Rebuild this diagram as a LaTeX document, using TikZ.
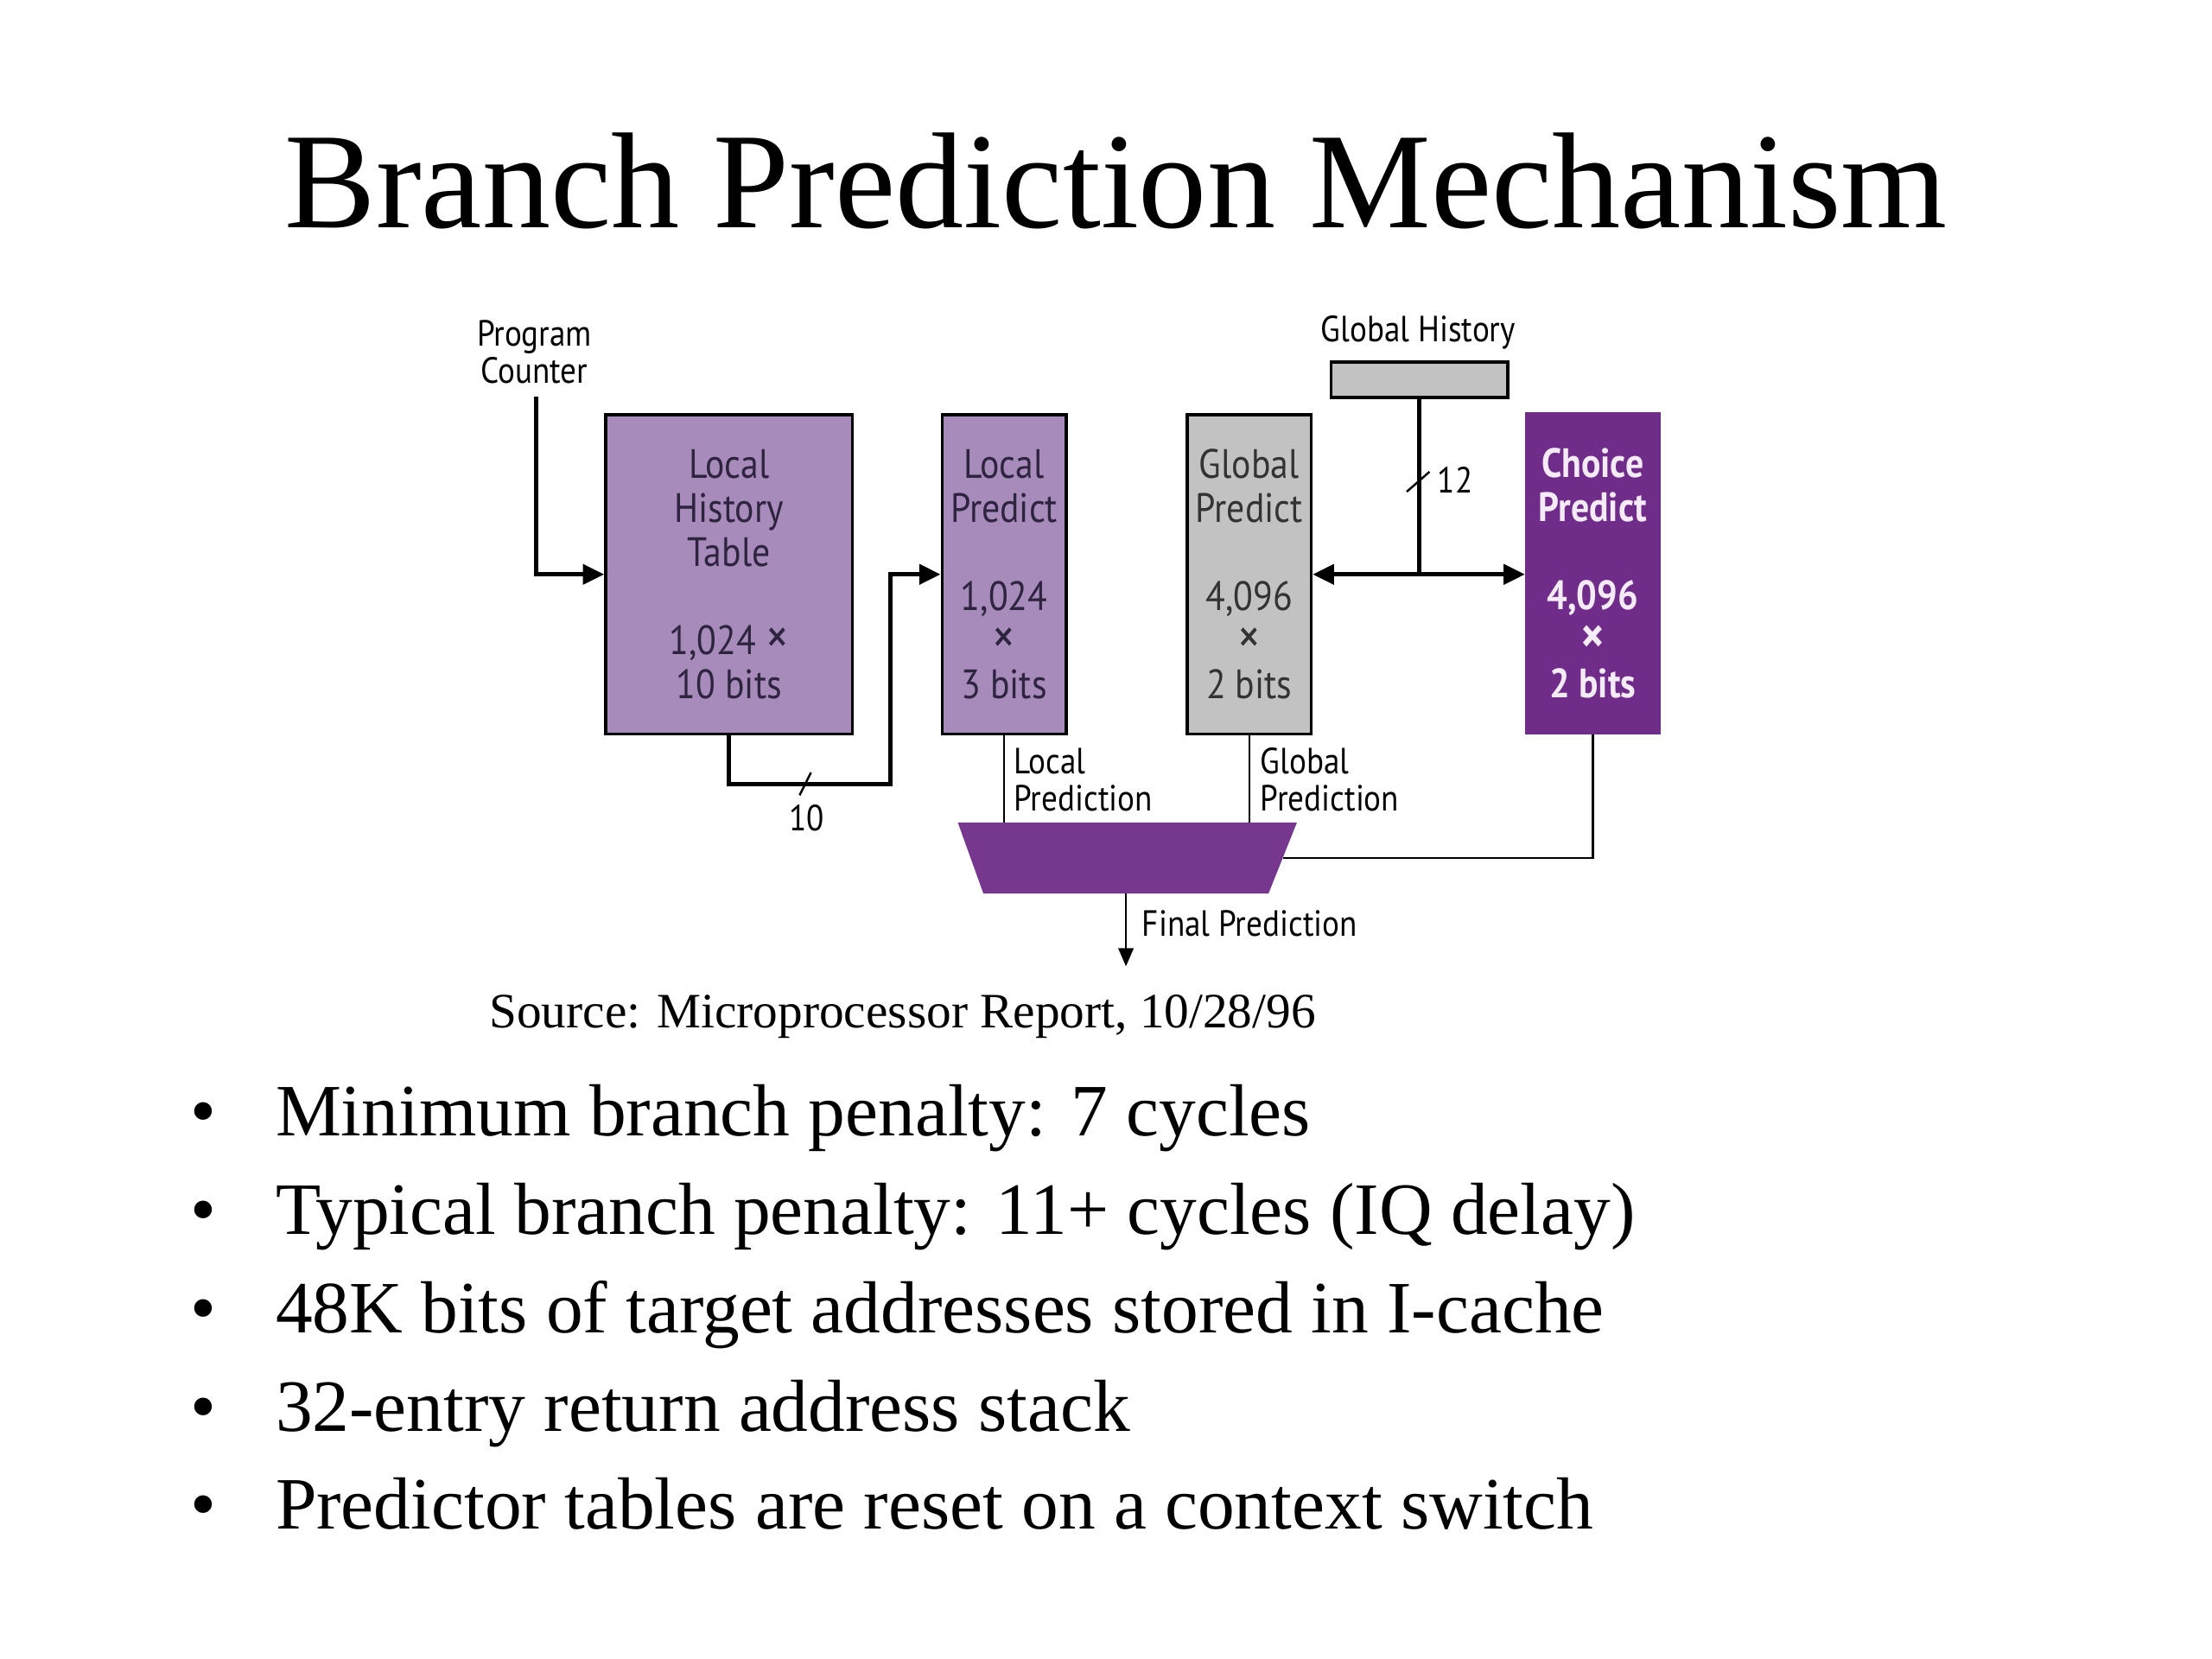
\documentclass[tikz,border=0pt]{standalone}
\usepackage{fontspec}
\setmainfont{Liberation Serif}
\newfontfamily\diagfont[FakeStretch=0.88]{PT Sans}
\usepackage{tikz}
\usetikzlibrary{arrows.meta}
\definecolor{lilac}{HTML}{A78BBB}
\definecolor{plum}{HTML}{6F2C89}
\definecolor{gray300}{HTML}{C2C2C2}
\definecolor{ink}{HTML}{2F2440}
\definecolor{pale}{HTML}{F5EAF8}
\def\px{0.016495cm}
\newcommand{\bytimes}{{\fontsize{17}{14.5}\selectfont ×}}
\tikzstyle{tablebox}=[rectangle, draw=black, line width=1pt, inner sep=0pt, minimum height=224*\px, align=center, text=ink, font=\diagfont\fontsize{13.5}{14.5}\selectfont]
\tikzstyle{tag}=[inner sep=0pt, align=left, font=\diagfont\fontsize{12}{12.2}\selectfont]
\tikzstyle{bus}=[line width=1.4pt, >={Triangle[length=7pt,width=6.5pt]}]
\tikzstyle{wire}=[line width=0.7pt, >={Triangle[length=6pt,width=5pt]}]
\tikzstyle{bullet}=[inner sep=0pt, anchor=base west, font=\fontsize{24.3}{29}\selectfont]

\begin{document}
\begin{tikzpicture}[x=0.016495cm, y=-0.016495cm]
			\useasboundingbox (0,0) rectangle (1552,1164);
			\node[font=\fontsize{45}{54}\selectfont, anchor=base] (title) at (783,160) {Branch Prediction Mechanism};
			% tables
			\node[tablebox, fill=lilac, minimum width=173*\px] (lht) at (511.5,403) {Local\\History\\Table\\[14.5pt]1,024 \bytimes\\10 bits};
			\node[tablebox, fill=lilac, minimum width=87*\px] (lp) at (704.5,403) {Local\\Predict\\[14.5pt]1,024\\\bytimes\\3 bits};
			\node[tablebox, fill=gray300, text=black!80, minimum width=87*\px] (gp) at (876.5,403) {Global\\Predict\\[14.5pt]4,096\\\bytimes\\2 bits};
			\node[tablebox, fill=plum, draw=plum, text=pale, minimum width=93*\px, font=\diagfont\bfseries\fontsize{13.5}{14.5}\selectfont] (cp) at (1117.5,402) {Choice\\Predict\\[14.5pt]4,096\\\bytimes\\2 bits};
			\node[rectangle, draw=black, line width=1pt, fill=gray300, minimum width=124*\px, minimum height=25*\px, inner sep=0pt] (gh) at (996,266.5) {};
			% selector
			\coordinate (muxnw) at (672,577);
			\coordinate (muxne) at (910,577);
			\coordinate (muxse) at (890,627);
			\coordinate (muxsw) at (690,627);
			\coordinate (muxe) at (900,602);
			\coordinate (muxs) at (790,627);
			\fill[plum!95!white] (muxnw) -- (muxne) -- (muxse) -- (muxsw) -- cycle;
			% labels
			\node[tag, align=center] (pc) at (375,247) {Program\\Counter};
			\node[tag] (ghl) at (995,233) {Global History};
			\node[tag, anchor=west] (lpl) at (711,547) {Local\\Prediction};
			\node[tag, anchor=west] (gpl) at (884,547) {Global\\Prediction};
			\node[tag, anchor=west] (fpl) at (801,648) {Final Prediction};
			\node[tag] (w10) at (566,574) {10};
			\node[tag] (w12) at (1021,337) {12};
			% wires
			\coordinate (bend) at (625,550);
			\coordinate (pcbase) at (376,278);
			\coordinate (out) at (790,678);
			\draw[bus, ->] (pcbase) |- (lht.west);
			\draw[bus, ->] (lht.south) |- (bend) |- (lp.west);
			\draw[bus] (gh.south) -- (gh.south |- gp.east);
			\draw[bus, <->] (gp.east) -- (cp.west |- gp.east);
			\draw[wire] (561,558) -- (569,542);
			\draw[wire] (987,345) -- (1003,331);
			\draw[wire] (lp.south) -- (lp.south |- muxnw);
			\draw[wire] (gp.south) -- (gp.south |- muxnw);
			\draw[wire] (cp.south) |- (muxe);
			\draw[wire, ->] (muxs) -- (out);
			% text
			\node[inner sep=0pt, anchor=base west, font=\fontsize{16.3}{19}\selectfont] (src) at (343,721) {Source: Microprocessor Report, 10/28/96};
			\node[bullet] (b1) at (193,797) {Minimum branch penalty: 7 cycles};
			\node[bullet] (b2) at (193,866) {Typical branch penalty: 11+ cycles (IQ delay)};
			\node[bullet] (b3) at (193,935) {48K bits of target addresses stored in I-cache};
			\node[bullet] (b4) at (193,1004) {32-entry return address stack};
			\node[bullet] (b5) at (193,1073) {Predictor tables are reset on a context switch};
			\node[bullet, anchor=base] (d1) at (143,797) {•};
			\node[bullet, anchor=base] (d2) at (143,866) {•};
			\node[bullet, anchor=base] (d3) at (143,935) {•};
			\node[bullet, anchor=base] (d4) at (143,1004) {•};
			\node[bullet, anchor=base] (d5) at (143,1073) {•};
		\end{tikzpicture}
\end{document}
